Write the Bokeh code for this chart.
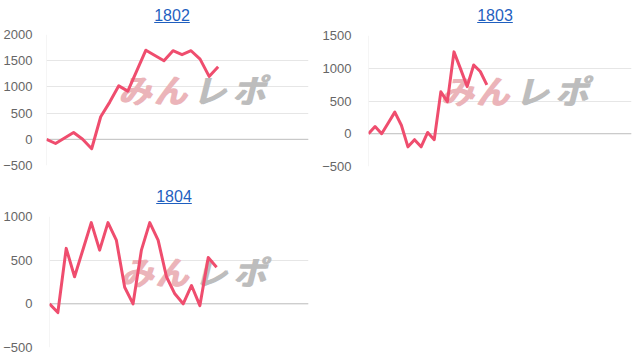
from bokeh.plotting import figure
from bokeh.models import Range1d, FixedTicker, Span, Label, Div, ColumnDataSource
from bokeh.layouts import column, row
from bokeh.embed import file_html
from bokeh.resources import INLINE

# ---------------- data ----------------
titles = ["1802", "1803", "1804"]

values_1802 = [0, -80, 25, 130, 0, -180, 430, 710, 1020, 920, 1310, 1700, 1600,
               1500, 1690, 1615, 1690, 1530, 1200, 1385]
values_1803 = [0, 110, 0, 165, 330, 130, -200, -90, -200, 20, -90, 640, 490,
               1250, 990, 720, 1050, 950, 745]
values_1804 = [0, -100, 635, 310, 620, 930, 615, 930, 730, 190, 0, 615, 930,
               730, 310, 115, 0, 210, -20, 530, 420]

slots_1802 = 30
slots_1803 = 41
slots_1804 = 32

yticks_1802 = [-500, 0, 500, 1000, 1500, 2000]
yticks_1803 = [-500, 0, 500, 1000, 1500]
yticks_1804 = [-500, 0, 500, 1000]

watermark_chars = ["み", "ん", "レ", "ポ"]
watermark_colors = ["#ebb4b9", "#ebb4b9", "#bdbdbd", "#bdbdbd"]
watermark_fracs = [0.335, 0.47, 0.62, 0.77]

LINE_COLOR = "#ef4d6e"
TITLE_COLOR = "#1f5fbf"
FONT = "Liberation Sans"
PANEL_W = 317
DIV_H = 24


def make_panel(title, vals, n_slots, yticks, left, top, fw, fh, bottom,
               title_cx, title_top, standoff):
    html = (
        f'<div style="position:relative;width:{PANEL_W}px;height:{DIV_H}px;'
        f'font-family:\'{FONT}\',Arial,sans-serif;font-size:16px;white-space:nowrap;">'
        f'<a style="position:absolute;left:{title_cx}px;top:{title_top}px;'
        f'line-height:16px;transform:translateX(-50%);'
        f'color:{TITLE_COLOR};text-decoration:underline;cursor:pointer;">{title}</a></div>'
    )
    d = Div(text=html, width=PANEL_W, height=DIV_H, margin=0)

    ybot, ytop = yticks[0], yticks[-1]
    p = figure(width=PANEL_W, height=top + fh + bottom,
               x_range=Range1d(0, n_slots - 1), y_range=Range1d(ybot, ytop),
               output_backend="svg", toolbar_location=None, x_axis_type=None,
               min_border_left=left, min_border_right=PANEL_W - left - fw,
               min_border_top=top, min_border_bottom=bottom)
    p.outline_line_color = None
    p.background_fill_color = "white"
    p.border_fill_color = "white"

    ax = p.yaxis[0]
    ax.ticker = FixedTicker(ticks=yticks)
    ax.axis_line_color = None
    ax.major_tick_line_color = None
    ax.minor_tick_line_color = None
    ax.major_label_text_font = FONT
    ax.major_label_text_font_size = "13px"
    ax.major_label_text_color = "#666666"
    ax.major_label_standoff = standoff
    p.ygrid.grid_line_color = "#e6e6e6"
    p.ygrid.grid_line_width = 1

    p.add_layout(Span(location=0, dimension="width", line_color="#c2c2c2",
                      line_width=1, level="underlay"))
    p.add_layout(Span(location=0, dimension="height", line_color="#ececec",
                      line_width=1, level="underlay"))

    # watermark (drawn twice with a small offset to make it heavier)
    wy = ytop - 0.415 * (ytop - ybot)
    for ch, col, fr in zip(watermark_chars, watermark_colors, watermark_fracs):
        for off in (0, 1.5):
            p.add_layout(Label(x=fr * (n_slots - 1), y=wy, text=ch,
                               x_offset=off,
                               text_font="Noto Sans CJK JP", text_font_size="33px",
                               text_font_style="bold italic", text_color=col,
                               text_align="center", text_baseline="middle",
                               level="underlay"))

    src = ColumnDataSource(dict(x=list(range(len(vals))), y=vals))
    p.line("x", "y", source=src, line_color=LINE_COLOR, line_width=3,
           line_join="round")
    return column(d, p, spacing=0, margin=0)


c1 = make_panel(titles[0], values_1802, slots_1802, yticks_1802,
                left=44, top=10, fw=264, fh=131, bottom=15,
                title_cx=172, title_top=8, standoff=8)
c2 = make_panel(titles[1], values_1803, slots_1803, yticks_1803,
                left=51, top=11, fw=263, fh=131, bottom=14,
                title_cx=178, title_top=8, standoff=11)
c3 = make_panel(titles[2], values_1804, slots_1804, yticks_1804,
                left=46, top=12, fw=262, fh=131, bottom=11,
                title_cx=174, title_top=9, standoff=11)

layout = column(row(c1, c2, spacing=0, margin=0), c3, spacing=0, margin=0)

with open("out.html", "w") as f:
    f.write(file_html(layout, INLINE, title="chart"))
